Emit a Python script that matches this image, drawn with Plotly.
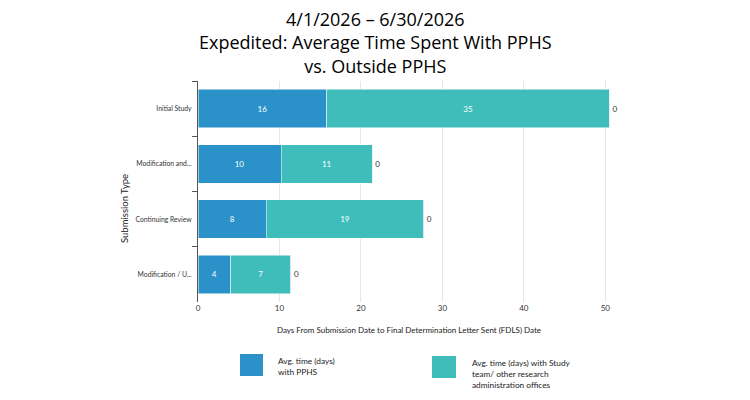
import plotly.graph_objects as go

# Data
categories   = ["Initial Study", "Modification and...", "Continuing Review", "Modification / U..."]
pphs_days    = [15.8, 10.2, 8.4, 4.0]
outside_days = [34.7, 11.2, 19.3, 7.4]
other_days   = [0, 0, 0, 0]

series_names = [
    "Avg. time (days)<br>with PPHS",
    "Avg. time (days) with Study<br>team/ other research<br>administration offices",
]
colors = ["#2a92c9", "#3ebdba"]

title_text = "4/1/2026 – 6/30/2026<br>Expedited: Average Time Spent With PPHS<br>vs. Outside PPHS"
x_title = "Days From Submission Date to Final Determination Letter Sent (FDLS) Date"
y_title = "Submission Type"

# page body adds an 8px offset, so layout pixels = screen pixels - 8
OFF = 8
plot_l, plot_w, plot_b, plot_h = 198 - OFF, 422, 302 - OFF, 221

fig = go.Figure()

# Stacked bars, value labels inside
for vals, name, color in zip([pphs_days, outside_days], series_names, colors):
    fig.add_trace(go.Bar(
        y=categories, x=vals, name=name, orientation="h",
        marker=dict(color=color, line=dict(color="white", width=0.5)),
        texttemplate="%{x:.0f}", textposition="inside",
        insidetextanchor="middle",
        textfont=dict(color="white", size=8, family="Lato"),
        showlegend=False,
    ))

# Zero-length segment at the end of each bar, shows the "0" label
fig.add_trace(go.Bar(
    y=categories, x=other_days, orientation="h",
    marker=dict(color="#888888"),
    texttemplate="%{x:.0f}", textposition="outside",
    textfont=dict(color="#333333", size=8, family="Lato"),
    cliponaxis=False, showlegend=False,
))

fig.update_layout(
    barmode="stack",
    bargap=0.3,
    width=750, height=400,
    margin=dict(l=plot_l, r=750 - plot_l - plot_w, t=plot_b - plot_h,
                b=400 - plot_b),
    plot_bgcolor="white", paper_bgcolor="white",
    font=dict(family="Lato", color="#333333"),
    uniformtext=dict(minsize=8, mode="show"),
)

fig.update_xaxes(
    range=[0, 51.8], dtick=10, showgrid=True, gridcolor="#e6e6e6",
    zeroline=False, showline=False, ticks="", automargin=False,
    tickfont=dict(size=8, color="#333333"),
    title=dict(text=x_title, font=dict(size=8, color="#222222")),
)
fig.update_yaxes(
    autorange="reversed", showline=True, linecolor="#555555", linewidth=1,
    ticks="outside", ticklen=5, tickcolor="#555555", tickson="boundaries",
    ticklabelstandoff=4,
    automargin=False, tickfont=dict(size=6.8, color="#333333"),
)

def px_x(px):
    return (px - OFF - plot_l) / plot_w
def px_y(py):
    return (plot_b - (py - OFF)) / plot_h

# Title and y-axis title as annotations
fig.add_annotation(xref="paper", yref="paper", x=px_x(375), y=px_y(5),
                   text=title_text, showarrow=False, xanchor="center", yanchor="top",
                   font=dict(family="Open Sans", size=18, color="black"))
fig.add_annotation(xref="paper", yref="paper", x=px_x(124), y=px_y(209),
                   text=y_title, showarrow=False, textangle=-90,
                   xanchor="center", yanchor="middle",
                   font=dict(size=9.5, color="#222222"))

# Legend drawn as big square swatches with text beside them
swatches = [(240, 263, 354, 376, 276), (432, 456, 356, 378, 470)]
for (x0, x1, y0, y1, tx), name, color in zip(swatches, series_names, colors):
    fig.add_shape(type="rect", xref="paper", yref="paper",
                  x0=px_x(x0), x1=px_x(x1), y0=px_y(y1), y1=px_y(y0),
                  fillcolor=color, line=dict(color=color, width=0))
    fig.add_annotation(xref="paper", yref="paper", x=px_x(tx), y=px_y(y0),
                       text=name, showarrow=False, xanchor="left", yanchor="top",
                       align="left", font=dict(size=8.3, color="#222222"))

fig.write_html("out.html")
